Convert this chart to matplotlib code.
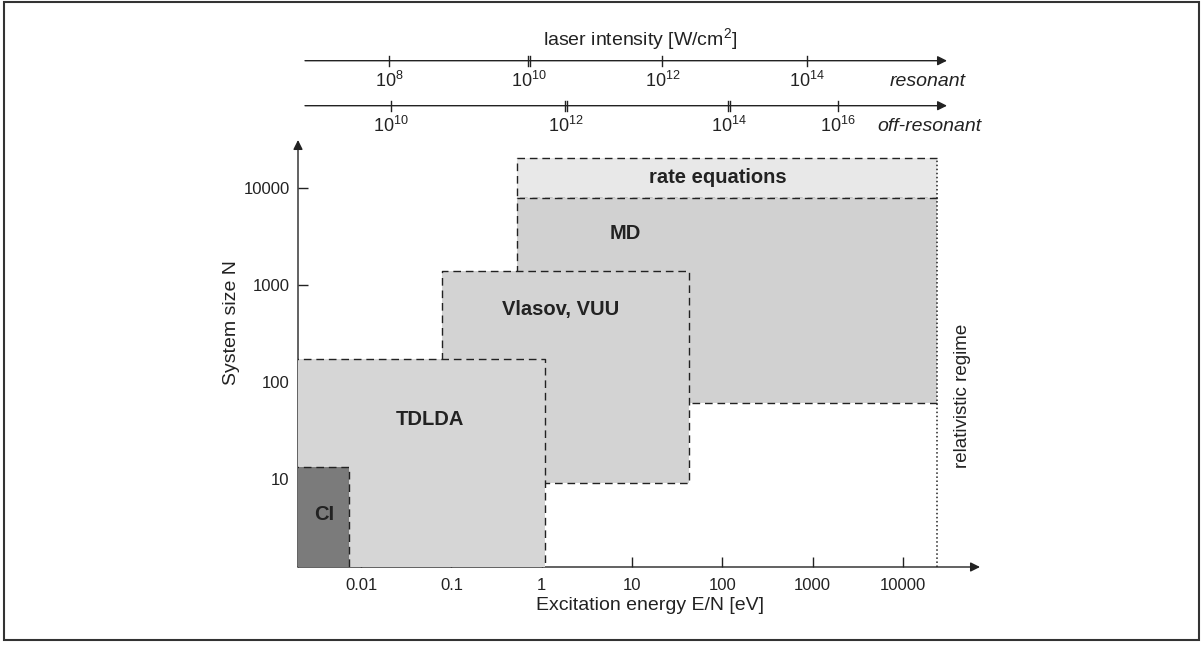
import matplotlib
matplotlib.use("Agg")
import matplotlib.pyplot as plt
from matplotlib.patches import Rectangle
import numpy as np

plt.rcParams['font.family'] = ['Liberation Sans', 'DejaVu Sans']
plt.rcParams['mathtext.fontset'] = 'custom'
plt.rcParams['mathtext.rm'] = 'Liberation Sans'
plt.rcParams['mathtext.it'] = 'Liberation Sans:italic'
plt.rcParams['mathtext.default'] = 'regular'

# method regions: excitation energy E/N [eV] and system size N
box_names = ['rate equations', 'MD', 'Vlasov, VUU', 'TDLDA', 'CI']
box_E_lo = [0.53, 0.53, 0.079, 0.001, 0.001]
box_E_hi = [23800, 23800, 43, 1.09, 0.0074]
box_N_lo = [7900, 61, 9.2, 1, 1]
box_N_hi = [20600, 7900, 1390, 174, 13.3]
box_colors = ['#e8e8e8', '#d1d1d1', '#d3d3d3', '#d6d6d6', '#7b7b7b']
label_E = [90, 8.4, 1.6, 0.058, 0.0039]
label_N = [13000, 3380, 560, 41, 4.3]

E_rel = 23800       # onset of relativistic regime
N_rel_top = 20600

x_ticks = [0.01, 0.1, 1, 10, 100, 1000, 10000]
x_ticklabels = ['0.01', '0.1', '1', '10', '100', '1000', '10000']
y_ticks = [10, 100, 1000, 10000]
y_ticklabels = ['10', '100', '1000', '10000']

# laser intensity scales mapped onto E/N
res_exp = [8, 10, 12, 14]
res_E = [0.0205, 0.72, 21.7, 872]
res_double = [False, True, False, False]
off_exp = [10, 12, 14, 16]
off_E = [0.0214, 1.86, 119, 1927]
off_double = [False, True, True, False]

fig = plt.figure(figsize=(12.04, 6.46), dpi=100)
W, H = 1204, 646
ax_l, ax_r, ax_b, ax_t = 298, 980, 567, 140
ax = fig.add_axes([ax_l / W, 1 - ax_b / H, (ax_r - ax_l) / W, (ax_b - ax_t) / H])
ax.set_xscale('log')
ax.set_yscale('log')
ax.set_xlim(10 ** -2.70, 10 ** 4.854)
ax.set_ylim(10 ** 0.093, 10 ** 4.498)
for s in ax.spines.values():
    s.set_visible(False)

# boxes, drawn back to front
for i in range(len(box_names)):
    x0, x1, y0, y1 = box_E_lo[i], box_E_hi[i], box_N_lo[i], box_N_hi[i]
    ax.add_patch(Rectangle((x0, y0), x1 - x0, y1 - y0, facecolor=box_colors[i],
                           edgecolor='none', zorder=2 + i))
    if x1 >= E_rel:
        px, py = [x1, x0, x0, x1], [y1, y1, y0, y0]
    else:
        px, py = [x0, x1, x1, x0, x0], [y0, y0, y1, y1, y0]
    ax.plot(px, py, ls=(0, (5.5, 3.5)), color='#222222', lw=1, zorder=2.5 + i)
    ax.text(label_E[i], label_N[i], box_names[i], ha='center', va='center',
            fontsize=14.5, fontweight='bold', color='#222222', zorder=10)

# relativistic limit
ax.plot([E_rel, E_rel], [10 ** 0.093, N_rel_top], ls=':', color='#222222', lw=1.1, zorder=9)
ax.text(46300, 72, 'relativistic regime', rotation=90, ha='center', va='center',
        fontsize=13.5, color='#222222')

# axes with arrows
ax.set_xticks(x_ticks)
ax.set_xticklabels(x_ticklabels)
ax.set_yticks(y_ticks)
ax.set_yticklabels(y_ticklabels)
ax.minorticks_off()
ax.tick_params(direction='in', length=7, width=1, labelsize=12, colors='#222222', pad=6)
ax.tick_params(axis='x', pad=8)
arrow = dict(arrowstyle='-|>', color='#222222', lw=1, mutation_scale=14, shrinkA=0, shrinkB=0)
ax.annotate('', xy=(1, 0), xytext=(0, 0), xycoords='axes fraction', arrowprops=arrow)
ax.annotate('', xy=(0, 1), xytext=(0, 0), xycoords='axes fraction', arrowprops=arrow)

def fy(py):
    return (ax_b - py) / (ax_b - ax_t)

ax.text((650 - ax_l) / (ax_r - ax_l), fy(605), 'Excitation energy E/N [eV]', transform=ax.transAxes,
        ha='center', va='center', fontsize=14, color='#222222')
ax.text((232 - ax_l) / (ax_r - ax_l), fy(323), 'System size N', transform=ax.transAxes,
        ha='center', va='center', rotation=90, fontsize=14, color='#222222')

# laser intensity scales on top
tr = ax.get_xaxis_transform()
x_start, x_end = (305 - ax_l) / (ax_r - ax_l), (947 - ax_l) / (ax_r - ax_l)
for yline, exps, Es, dbl, name, name_x in [(fy(60.7), res_exp, res_E, res_double, 'resonant', 966),
                                           (fy(105.7), off_exp, off_E, off_double, 'off-resonant', 981)]:
    ax.annotate('', xy=(x_end, yline), xytext=(x_start, yline), xycoords='axes fraction',
                arrowprops=arrow, annotation_clip=False)
    dy = 5 / (ax_b - ax_t)
    for e, E, d in zip(exps, Es, dbl):
        offs = [-1.0, 1.0] if d else [0.0]
        for o in offs:
            xx = E * 10 ** (o / 90.3)
            ax.plot([xx, xx], [yline - dy, yline + dy], color='#222222', lw=1,
                    transform=tr, clip_on=False)
        ax.text(E, yline - 20 / (ax_b - ax_t), '10$^{%d}$' % e, transform=tr, ha='center',
                va='center', fontsize=13, color='#222222', clip_on=False)
    ax.text((name_x - ax_l) / (ax_r - ax_l), yline - 21 / (ax_b - ax_t), name,
            transform=ax.transAxes, ha='right', va='center', fontsize=14, style='italic',
            color='#222222')
ax.text((640 - ax_l) / (ax_r - ax_l), fy(39), 'laser intensity [W/cm$^2$]', transform=ax.transAxes,
        ha='center', va='center', fontsize=14, color='#222222')

# outer frame
fig.patches.append(Rectangle((4 / W, 1 - 640 / H), 1195 / W, 638 / H, transform=fig.transFigure,
                             fill=False, edgecolor='#333333', lw=1.5))

fig.savefig('out.png', dpi=100)
